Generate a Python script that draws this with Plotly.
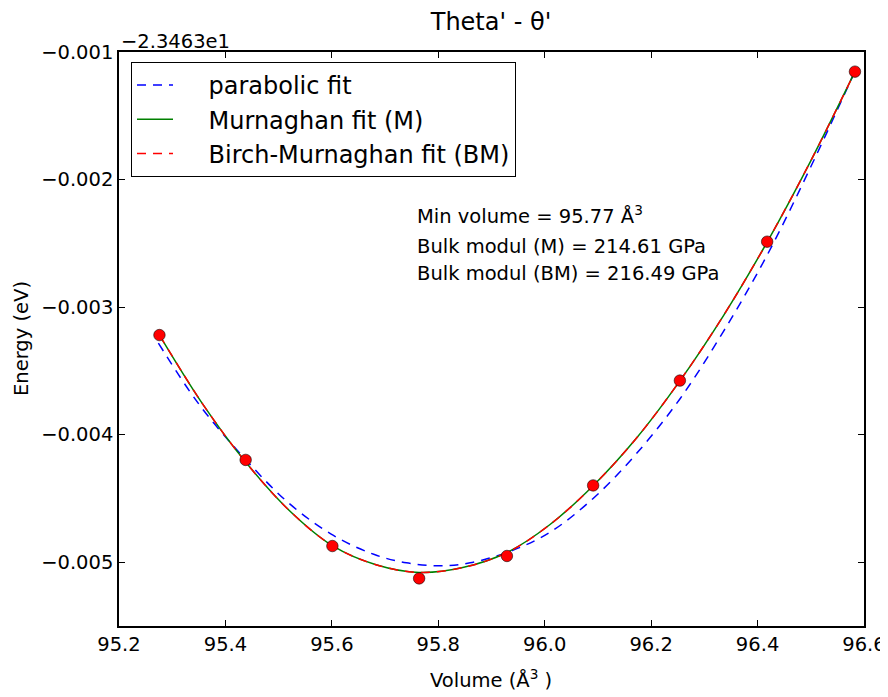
import plotly.graph_objects as go

# measured energies (offset from -23.463 eV)
volumes = [95.276, 95.438, 95.601, 95.764, 95.929, 96.091, 96.254, 96.418, 96.583]
energies = [-0.003219, -0.004198, -0.004873, -0.005127, -0.004951,
            -0.004398, -0.003576, -0.002487, -0.001154]

# parabolic fit curve
parab_v = [95.274, 95.35, 95.438, 95.52, 95.603, 95.68, 95.74, 95.80, 95.86,
           95.941, 96.01, 96.091, 96.17, 96.254, 96.336, 96.417, 96.50, 96.583]
parab_e = [-0.003282, -0.003760, -0.004195, -0.004540, -0.004790, -0.004940,
           -0.005005, -0.005028, -0.005005, -0.004905, -0.004765, -0.004500,
           -0.004160, -0.003720, -0.003190, -0.002600, -0.001900, -0.001150]

# Murnaghan / Birch-Murnaghan fit curves (they overlap)
eos_v = [95.276, 95.357, 95.438, 95.519, 95.601, 95.683, 95.764, 95.846, 95.929,
         96.010, 96.091, 96.173, 96.254, 96.336, 96.418, 96.500, 96.583]
murn_e = [-0.003219, -0.003758, -0.004215, -0.004590, -0.004870, -0.005020,
          -0.005080, -0.005042, -0.004924, -0.004704, -0.004400, -0.004024,
          -0.003578, -0.003066, -0.002490, -0.001853, -0.001154]
bm_e = [-0.003219, -0.003758, -0.004215, -0.004590, -0.004870, -0.005020,
        -0.005080, -0.005042, -0.004924, -0.004704, -0.004400, -0.004024,
        -0.003578, -0.003066, -0.002490, -0.001853, -0.001154]

x_ticks = [95.2, 95.4, 95.6, 95.8, 96.0, 96.2, 96.4, 96.6]
y_ticks = [-0.005, -0.004, -0.003, -0.002, -0.001]

font = "DejaVu Sans"
OFF = 8                          # page body margin
W, H = 888 - OFF, 697 - OFF
L, R, T, B = 119, 864, 52, 626   # plot area in page pixels
PW, PH = R - L, B - T


def px_x(x):
    return (x - L) / PW


def px_y(y):
    return (B - y) / PH


NB = "\u00a0" * 4

fig = go.Figure()
fig.add_trace(go.Scatter(x=parab_v, y=parab_e, mode="lines", name=NB + "parabolic fit",
                         line=dict(color="#0000ff", width=1.5, dash="9px,7px", shape="spline")))
fig.add_trace(go.Scatter(x=eos_v, y=murn_e, mode="lines", name=NB + "Murnaghan fit (M)",
                         line=dict(color="#008000", width=1.5, shape="spline")))
fig.add_trace(go.Scatter(x=eos_v, y=bm_e, mode="lines", name=NB + "Birch-Murnaghan fit (BM)",
                         line=dict(color="#ff0000", width=1.5, dash="9px,7px", shape="spline")))
fig.add_trace(go.Scatter(x=volumes, y=energies, mode="markers", showlegend=False,
                         marker=dict(color="#ff0000", size=11.5,
                                     line=dict(color="rgba(0,0,0,0.7)", width=0.8))))

ann_font = dict(family=font, size=19.5, color="black")
for txt, ypx in [("Min volume = 95.77 Å<sup>3</sup>", 215),
                 ("Bulk modul (M) = 214.61 GPa", 246),
                 ("Bulk modul (BM) = 216.49 GPa", 273)]:
    fig.add_annotation(text=txt, x=px_x(415), y=px_y(ypx),
                       xref="paper", yref="paper", xanchor="left", yanchor="middle",
                       showarrow=False, font=ann_font)

# offset text above the y axis
fig.add_annotation(text="−2.3463e1", x=0, y=px_y(42), xref="paper", yref="paper",
                   xanchor="left", yanchor="middle", showarrow=False, font=ann_font)

# axis titles
fig.add_annotation(text="Energy (eV)", x=px_x(21), y=px_y(339), xref="paper", yref="paper",
                   xanchor="center", yanchor="middle", textangle=-90, showarrow=False,
                   font=ann_font)
fig.add_annotation(text="Volume (Å<sup>3</sup> )", x=px_x(491), y=px_y(679), xref="paper",
                   yref="paper", xanchor="center", yanchor="middle", showarrow=False,
                   font=ann_font)

fig.update_layout(
    width=W, height=H,
    margin=dict(l=L - OFF, r=888 - R, t=T - OFF, b=697 - B, autoexpand=False),
    plot_bgcolor="white", paper_bgcolor="white",
    font=dict(family=font, size=19.5, color="black"),
    title=dict(text="Theta' - θ'", x=(491 - OFF) / W, xanchor="center",
               y=1 - 14 / H, yanchor="middle", font=dict(size=24)),
    legend=dict(x=px_x(131), y=px_y(62), xanchor="left", yanchor="top",
                bgcolor="white", bordercolor="black", borderwidth=1,
                font=dict(size=24), tracegroupgap=0, itemwidth=36),
    showlegend=True,
)
fig.update_xaxes(range=[95.2, 96.6], tickvals=x_ticks, ticktext=[f"{v:.1f}" for v in x_ticks],
                 ticks="inside", ticklen=6, tickcolor="black", showgrid=False, zeroline=False,
                 showline=True, linecolor="black", linewidth=1.5, mirror="allticks",
                 automargin=False)
fig.update_yaxes(range=[-0.0055, -0.001], tickvals=y_ticks,
                 ticktext=[f"−{abs(v):.3f}" for v in y_ticks],
                 ticks="inside", ticklen=6, tickcolor="black", showgrid=False, zeroline=False,
                 showline=True, linecolor="black", linewidth=1.5, mirror="allticks",
                 automargin=False)

fig.write_html("out.html")
